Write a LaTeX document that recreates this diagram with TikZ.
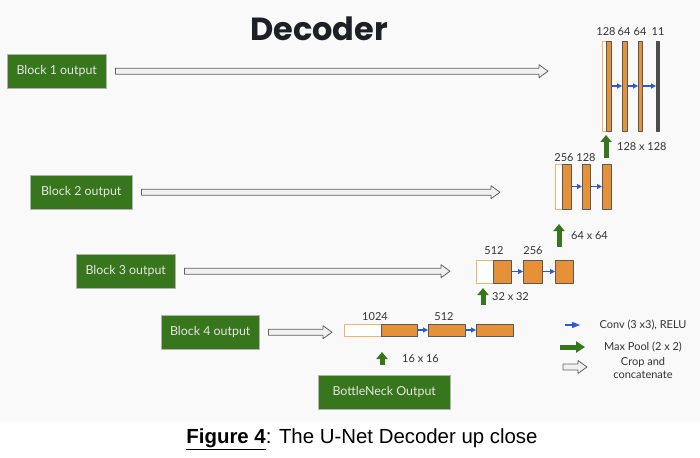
\documentclass[tikz,border=0pt]{standalone}
\usepackage{fontspec}
\setmainfont{Liberation Sans}
\newfontfamily\slidefont{Lato}
\newfontfamily\titlefont{Poppins}
\usetikzlibrary{arrows.meta,calc}
\definecolor{poolgreen}{HTML}{38761D}
\definecolor{layerorange}{HTML}{E69138}
\definecolor{cropline}{HTML}{F6B26B}
\definecolor{convblue}{HTML}{2D58DC}
\definecolor{slidebg}{HTML}{F9F9F9}
\definecolor{titleink}{HTML}{1E2028}
\begin{document}
\begin{tikzpicture}[x=1pt,y=-1pt,line join=round,
	blk/.style={fill=poolgreen,draw=gray!60,line width=.4pt,text=white!90!black,font=\slidefont\fontsize{12.4}{15}\selectfont,minimum height=34,inner sep=0,anchor=north west},
	crop/.style={draw=cropline,fill=white,line width=.9pt,inner sep=0,outer sep=0,anchor=north west},
	layer/.style={draw=black!65,fill=layerorange,line width=.7pt,inner sep=0,outer sep=0,anchor=north west},
	lab/.style={font=\slidefont\fontsize{11}{13}\selectfont,text=black!80,inner sep=1},
	conv/.style={draw=convblue,line width=1.1pt,-{Triangle[length=5pt,width=5pt]}},
	pool/.style={draw=poolgreen,line width=5pt,-{Triangle[length=7pt,width=11pt]}},
	cat/.style={draw=gray!75!black,fill=gray!12,line width=.8pt,
		to path={let \p1=(\tikztostart),\p2=(\tikztotarget) in
			(\x1,\y1+3pt)--(\x2-9pt,\y1+3pt)--(\x2-9pt,\y1+6.5pt)--(\x2,\y1)--(\x2-9pt,\y1-6.5pt)--(\x2-9pt,\y1-3pt)--(\x1,\y1-3pt)--cycle}}]
	%==Khung
	\useasboundingbox (0,0) rectangle (700,457);
	\fill[slidebg] (0,0) rectangle (700,422);
	\node[font=\titlefont\bfseries\fontsize{32}{36}\selectfont,text=titleink] (title) at (319,29) {Decoder};
	%==Khối xanh
	\foreach \n/\x/\y/\w/\t in {blk1/7/54/99/Block 1 output,blk2/30/175/102/Block 2 output,blk3/76/254/99/Block 3 output,blk4/161/315/98/Block 4 output,bott/318/375/132/BottleNeck Output}
		\node[blk,minimum width=\w] (\n) at (\x,\y) {\t};
	%==Các lớp
	\foreach \n/\xa/\xb/\ya/\yb in {w4/344/381/324/336,w3/476/493/260/283,w2/555/562/164/209,w1/602/606/41/131}
		\node[crop,minimum width=\xb-\xa,minimum height=\yb-\ya] (\n) at (\xa,\ya) {};
	\foreach \n/\xa/\xb/\ya/\yb in {a4/381/417/324/336,b4/428/465/324/336,c4/476/513/324/336,a3/493/511/260/283,b3/523/542/260/283,c3/555/573/260/283,a2/562/571/164/209,b2/582/590/164/209,c2/602/611/164/209,a1/606/611/41/131,b1/622/627/41/131,c1/638/642/41/131}
		\node[layer,minimum width=\xb-\xa,minimum height=\yb-\ya] (\n) at (\xa,\ya) {};
	\node[layer,fill=black!70,draw=black!70,minimum width=3,minimum height=90] (d1) at (656,41) {};
	\foreach \p/\q in {a4/b4,b4/c4,a3/b3,b3/c3,a2/b2,b2/c2,a1/b1,b1/c1,c1/d1}
		\draw[conv] (\p)--(\q);
	\foreach \n/\x/\y/\t in {n1/375/317/1024,n2/444/317/512,n3/494/251/512,n4/533/251/256,n5/564/158/256,n6/586/158/128,n7/606/32/128,n8/624/32/64,n9/640/32/64,n10/658/32/11}
		\node[lab] (\n) at (\x,\y) {\t};
	%==Mũi tên
	\coordinate (g1) at (548,0);
	\coordinate (g2) at (500,0);
	\coordinate (g3) at (450,0);
	\coordinate (g4) at (332,0);
	\draw[cat] ([xshift=9]blk1.east) to (g1);
	\draw[cat] ([xshift=9]blk2.east) to (g2);
	\draw[cat] ([xshift=9]blk3.east) to (g3);
	\draw[cat] ([xshift=9]blk4.east) to (g4);
	\foreach \k/\x/\ya/\yb/\dx/\t in {4/382/365/352/19/16 x 16,3/483/305/288/8/32 x 32,2/559/247/224/11/64 x 64,1/606/158/135/10/128 x 128}{
		\coordinate (s\k) at (\x,\ya);
		\coordinate (e\k) at (\x,\yb);
		\draw[pool] (s\k)--(e\k);
		\node[lab,anchor=west] (m\k) at (\x+\dx,\ya/2+\yb/2) {\t};}
	%==Chú thích
	\coordinate (lb1) at (565,325); \coordinate (lb2) at (580,325);
	\coordinate (lp1) at (560,347); \coordinate (lp2) at (585,347);
	\coordinate (lc1) at (563,367); \coordinate (lc2) at (587,367);
	\draw[conv,-{Triangle[length=8pt,width=6pt]}] (lb1)--(lb2);
	\draw[pool,-{Triangle[length=9pt,width=11pt]}] (lp1)--(lp2);
	\draw[cat] (lc1) to (lc2);
	\node[lab] (t1) at (643,325) {Conv (3 x3), RELU};
	\node[lab] (t2) at (643,347) {Max Pool (2 x 2)};
	\node[lab,align=center] (t3) at (643,368) {Crop and\\concatenate};
	\node[font=\fontsize{20.4}{24}\selectfont] (cap) at (362,439) {\underline{\textbf{Figure 4}}: The U-Net Decoder up close};
\end{tikzpicture}
\end{document}
